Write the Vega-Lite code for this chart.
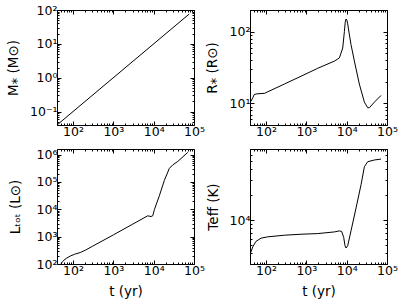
{
  "$schema": "https://vega.github.io/schema/vega-lite/v6.json",
  "padding": {"left": 5, "top": 3, "right": 5, "bottom": 5},
  "background": "white",
  "datasets": {
    "mass": [{"t": 40, "v": 0.04}, {"t": 76000, "v": 76}],
    "radius": [
      {"t": 40, "v": 10.2}, {"t": 47, "v": 12.0}, {"t": 51, "v": 13.3}, {"t": 60, "v": 13.6}, {"t": 91, "v": 13.8},
      {"t": 285, "v": 18.6}, {"t": 738, "v": 23.9}, {"t": 1910, "v": 30.8}, {"t": 4950, "v": 38.8},
      {"t": 6590, "v": 43}, {"t": 7970, "v": 59}, {"t": 8770, "v": 100}, {"t": 9200, "v": 135},
      {"t": 9640, "v": 150}, {"t": 10100, "v": 145}, {"t": 10600, "v": 128}, {"t": 11500, "v": 95},
      {"t": 12800, "v": 66}, {"t": 15500, "v": 39}, {"t": 20600, "v": 18.6}, {"t": 27500, "v": 10.4},
      {"t": 33200, "v": 8.7}, {"t": 36600, "v": 8.7}, {"t": 48600, "v": 10.4}, {"t": 71200, "v": 12.9}
    ],
    "lum": [
      {"t": 50, "v": 100}, {"t": 55, "v": 122}, {"t": 60, "v": 140}, {"t": 70, "v": 165}, {"t": 85, "v": 195},
      {"t": 110, "v": 228}, {"t": 150, "v": 262}, {"t": 200, "v": 318}, {"t": 300, "v": 440}, {"t": 1000, "v": 1160},
      {"t": 3000, "v": 2850}, {"t": 7100, "v": 5770}, {"t": 8600, "v": 5440}, {"t": 9480, "v": 5770},
      {"t": 10400, "v": 9700}, {"t": 13800, "v": 31000}, {"t": 18400, "v": 114000}, {"t": 24500, "v": 314000},
      {"t": 29700, "v": 420000}, {"t": 39500, "v": 560000}, {"t": 70000, "v": 1200000}
    ],
    "teff": [
      {"t": 40, "v": 3900}, {"t": 47, "v": 4810}, {"t": 56, "v": 5560}, {"t": 75, "v": 6090}, {"t": 110, "v": 6310},
      {"t": 285, "v": 6600}, {"t": 738, "v": 6780}, {"t": 1910, "v": 6900}, {"t": 4950, "v": 7220},
      {"t": 6590, "v": 7430}, {"t": 7530, "v": 7300}, {"t": 8440, "v": 6200}, {"t": 9100, "v": 4940},
      {"t": 9640, "v": 4650}, {"t": 10600, "v": 4940}, {"t": 12800, "v": 7430}, {"t": 17100, "v": 13970},
      {"t": 22700, "v": 26300}, {"t": 27500, "v": 43100}, {"t": 33200, "v": 49400}, {"t": 48600, "v": 51800},
      {"t": 71200, "v": 53100}
    ]
  },
  "columns": 2,
  "bounds": "flush",
  "spacing": {"row": 24, "column": 56},
  "concat": [
    {
      "width": 137, "height": 115,
      "data": {"name": "mass"},
      "layer": [
        {"mark": {"type": "line", "color": "#000", "strokeWidth": 1, "clip": true},
         "encoding": {
           "x": {"field": "t", "type": "quantitative", "scale": {"type": "log", "domain": [40, 100000], "nice": false},
             "axis": {"orient": "bottom", "title": null, "labelPadding": 4,
               "values": [40,50,60,70,80,90,100,200,300,400,500,600,700,800,900,1000,2000,3000,4000,5000,6000,7000,8000,9000,10000,20000,30000,40000,50000,60000,70000,80000,90000,100000],
               "labelExpr": "abs(log(datum.value)/LN10-round(log(datum.value)/LN10))<0.001 ? '10'+['⁻²','⁻¹','⁰','¹','²','³','⁴','⁵','⁶'][round(log(datum.value)/LN10)+2] : ''",
               "tickSize": {"condition": {"test": "abs(log(datum.value)/LN10-round(log(datum.value)/LN10))<0.001", "value": -4}, "value": -2}}},
           "y": {"field": "v", "type": "quantitative", "scale": {"type": "log", "domain": [0.04, 100], "nice": false},
             "axis": {"orient": "left", "title": "M⁎ (M⊙)", "titlePadding": 7, "minExtent": 30, "maxExtent": 30, "labelPadding": 4,
               "values": [0.04,0.05,0.06,0.07,0.08,0.09,0.1,0.2,0.3,0.4,0.5,0.6,0.7,0.8,0.9,1,2,3,4,5,6,7,8,9,10,20,30,40,50,60,70,80,90,100],
               "labelExpr": "abs(log(datum.value)/LN10-round(log(datum.value)/LN10))<0.001 ? '10'+['⁻²','⁻¹','⁰','¹','²','³','⁴','⁵','⁶'][round(log(datum.value)/LN10)+2] : ''",
               "tickSize": {"condition": {"test": "abs(log(datum.value)/LN10-round(log(datum.value)/LN10))<0.001", "value": -4}, "value": -2}}}
         }},
        {"mark": {"type": "line", "opacity": 0},
         "encoding": {
           "x": {"field": "t", "type": "quantitative",
             "axis": {"orient": "top", "title": null, "labels": false,
               "values": [40,50,60,70,80,90,100,200,300,400,500,600,700,800,900,1000,2000,3000,4000,5000,6000,7000,8000,9000,10000,20000,30000,40000,50000,60000,70000,80000,90000,100000],
               "tickSize": {"condition": {"test": "abs(log(datum.value)/LN10-round(log(datum.value)/LN10))<0.001", "value": -4}, "value": -2}}},
           "y": {"field": "v", "type": "quantitative",
             "axis": {"orient": "right", "title": null, "labels": false,
               "values": [0.04,0.05,0.06,0.07,0.08,0.09,0.1,0.2,0.3,0.4,0.5,0.6,0.7,0.8,0.9,1,2,3,4,5,6,7,8,9,10,20,30,40,50,60,70,80,90,100],
               "tickSize": {"condition": {"test": "abs(log(datum.value)/LN10-round(log(datum.value)/LN10))<0.001", "value": -4}, "value": -2}}}
         }}
      ],
      "resolve": {"axis": {"x": "independent", "y": "independent"}}
    },
    {
      "width": 137, "height": 115,
      "data": {"name": "radius"},
      "layer": [
        {"mark": {"type": "line", "color": "#000", "strokeWidth": 1, "clip": true},
         "encoding": {
           "x": {"field": "t", "type": "quantitative", "scale": {"type": "log", "domain": [40, 100000], "nice": false},
             "axis": {"orient": "bottom", "title": null, "labelPadding": 4,
               "values": [40,50,60,70,80,90,100,200,300,400,500,600,700,800,900,1000,2000,3000,4000,5000,6000,7000,8000,9000,10000,20000,30000,40000,50000,60000,70000,80000,90000,100000],
               "labelExpr": "abs(log(datum.value)/LN10-round(log(datum.value)/LN10))<0.001 ? '10'+['⁻²','⁻¹','⁰','¹','²','³','⁴','⁵','⁶'][round(log(datum.value)/LN10)+2] : ''",
               "tickSize": {"condition": {"test": "abs(log(datum.value)/LN10-round(log(datum.value)/LN10))<0.001", "value": -4}, "value": -2}}},
           "y": {"field": "v", "type": "quantitative", "scale": {"type": "log", "domain": [5, 200], "nice": false},
             "axis": {"orient": "left", "title": "R⁎ (R⊙)", "titlePadding": 1, "minExtent": 30, "maxExtent": 30, "labelPadding": 4,
               "values": [5,6,7,8,9,10,20,30,40,50,60,70,80,90,100,200],
               "labelExpr": "abs(log(datum.value)/LN10-round(log(datum.value)/LN10))<0.001 ? '10'+['⁻²','⁻¹','⁰','¹','²','³','⁴','⁵','⁶'][round(log(datum.value)/LN10)+2] : ''",
               "tickSize": {"condition": {"test": "abs(log(datum.value)/LN10-round(log(datum.value)/LN10))<0.001", "value": -4}, "value": -2}}}
         }},
        {"mark": {"type": "line", "opacity": 0},
         "encoding": {
           "x": {"field": "t", "type": "quantitative",
             "axis": {"orient": "top", "title": null, "labels": false,
               "values": [40,50,60,70,80,90,100,200,300,400,500,600,700,800,900,1000,2000,3000,4000,5000,6000,7000,8000,9000,10000,20000,30000,40000,50000,60000,70000,80000,90000,100000],
               "tickSize": {"condition": {"test": "abs(log(datum.value)/LN10-round(log(datum.value)/LN10))<0.001", "value": -4}, "value": -2}}},
           "y": {"field": "v", "type": "quantitative",
             "axis": {"orient": "right", "title": null, "labels": false,
               "values": [5,6,7,8,9,10,20,30,40,50,60,70,80,90,100,200],
               "tickSize": {"condition": {"test": "abs(log(datum.value)/LN10-round(log(datum.value)/LN10))<0.001", "value": -4}, "value": -2}}}
         }}
      ],
      "resolve": {"axis": {"x": "independent", "y": "independent"}}
    },
    {
      "width": 137, "height": 115,
      "data": {"name": "lum"},
      "layer": [
        {"mark": {"type": "line", "color": "#000", "strokeWidth": 1, "clip": true},
         "encoding": {
           "x": {"field": "t", "type": "quantitative", "scale": {"type": "log", "domain": [40, 100000], "nice": false},
             "axis": {"orient": "bottom", "title": "t (yr)", "titlePadding": 5, "minExtent": 15, "maxExtent": 15, "labelPadding": 4,
               "values": [40,50,60,70,80,90,100,200,300,400,500,600,700,800,900,1000,2000,3000,4000,5000,6000,7000,8000,9000,10000,20000,30000,40000,50000,60000,70000,80000,90000,100000],
               "labelExpr": "abs(log(datum.value)/LN10-round(log(datum.value)/LN10))<0.001 ? '10'+['⁻²','⁻¹','⁰','¹','²','³','⁴','⁵','⁶'][round(log(datum.value)/LN10)+2] : ''",
               "tickSize": {"condition": {"test": "abs(log(datum.value)/LN10-round(log(datum.value)/LN10))<0.001", "value": -4}, "value": -2}}},
           "y": {"field": "v", "type": "quantitative", "scale": {"type": "log", "domain": [100, 1600000], "nice": false},
             "axis": {"orient": "left", "title": "Lₜₒₜ (L⊙)", "titlePadding": 5, "minExtent": 30, "maxExtent": 30, "labelPadding": 4,
               "values": [100,200,300,400,500,600,700,800,900,1000,2000,3000,4000,5000,6000,7000,8000,9000,10000,20000,30000,40000,50000,60000,70000,80000,90000,100000,200000,300000,400000,500000,600000,700000,800000,900000,1000000],
               "labelExpr": "abs(log(datum.value)/LN10-round(log(datum.value)/LN10))<0.001 ? '10'+['⁻²','⁻¹','⁰','¹','²','³','⁴','⁵','⁶'][round(log(datum.value)/LN10)+2] : ''",
               "tickSize": {"condition": {"test": "abs(log(datum.value)/LN10-round(log(datum.value)/LN10))<0.001", "value": -4}, "value": -2}}}
         }},
        {"mark": {"type": "line", "opacity": 0},
         "encoding": {
           "x": {"field": "t", "type": "quantitative",
             "axis": {"orient": "top", "title": null, "labels": false,
               "values": [40,50,60,70,80,90,100,200,300,400,500,600,700,800,900,1000,2000,3000,4000,5000,6000,7000,8000,9000,10000,20000,30000,40000,50000,60000,70000,80000,90000,100000],
               "tickSize": {"condition": {"test": "abs(log(datum.value)/LN10-round(log(datum.value)/LN10))<0.001", "value": -4}, "value": -2}}},
           "y": {"field": "v", "type": "quantitative",
             "axis": {"orient": "right", "title": null, "labels": false,
               "values": [100,200,300,400,500,600,700,800,900,1000,2000,3000,4000,5000,6000,7000,8000,9000,10000,20000,30000,40000,50000,60000,70000,80000,90000,100000,200000,300000,400000,500000,600000,700000,800000,900000,1000000],
               "tickSize": {"condition": {"test": "abs(log(datum.value)/LN10-round(log(datum.value)/LN10))<0.001", "value": -4}, "value": -2}}}
         }}
      ],
      "resolve": {"axis": {"x": "independent", "y": "independent"}}
    },
    {
      "width": 137, "height": 115,
      "data": {"name": "teff"},
      "layer": [
        {"mark": {"type": "line", "color": "#000", "strokeWidth": 1, "clip": true},
         "encoding": {
           "x": {"field": "t", "type": "quantitative", "scale": {"type": "log", "domain": [40, 100000], "nice": false},
             "axis": {"orient": "bottom", "title": "t (yr)", "titlePadding": 5, "minExtent": 15, "maxExtent": 15, "labelPadding": 4,
               "values": [40,50,60,70,80,90,100,200,300,400,500,600,700,800,900,1000,2000,3000,4000,5000,6000,7000,8000,9000,10000,20000,30000,40000,50000,60000,70000,80000,90000,100000],
               "labelExpr": "abs(log(datum.value)/LN10-round(log(datum.value)/LN10))<0.001 ? '10'+['⁻²','⁻¹','⁰','¹','²','³','⁴','⁵','⁶'][round(log(datum.value)/LN10)+2] : ''",
               "tickSize": {"condition": {"test": "abs(log(datum.value)/LN10-round(log(datum.value)/LN10))<0.001", "value": -4}, "value": -2}}},
           "y": {"field": "v", "type": "quantitative", "scale": {"type": "log", "domain": [3000, 70000], "nice": false},
             "axis": {"orient": "left", "title": "Teff (K)", "titlePadding": 0, "minExtent": 30, "maxExtent": 30, "labelPadding": 4,
               "values": [3000,4000,5000,6000,7000,8000,9000,10000,20000,30000,40000,50000,60000,70000],
               "labelExpr": "abs(log(datum.value)/LN10-round(log(datum.value)/LN10))<0.001 ? '10'+['⁻²','⁻¹','⁰','¹','²','³','⁴','⁵','⁶'][round(log(datum.value)/LN10)+2] : ''",
               "tickSize": {"condition": {"test": "abs(log(datum.value)/LN10-round(log(datum.value)/LN10))<0.001", "value": -4}, "value": -2}}}
         }},
        {"mark": {"type": "line", "opacity": 0},
         "encoding": {
           "x": {"field": "t", "type": "quantitative",
             "axis": {"orient": "top", "title": null, "labels": false,
               "values": [40,50,60,70,80,90,100,200,300,400,500,600,700,800,900,1000,2000,3000,4000,5000,6000,7000,8000,9000,10000,20000,30000,40000,50000,60000,70000,80000,90000,100000],
               "tickSize": {"condition": {"test": "abs(log(datum.value)/LN10-round(log(datum.value)/LN10))<0.001", "value": -4}, "value": -2}}},
           "y": {"field": "v", "type": "quantitative",
             "axis": {"orient": "right", "title": null, "labels": false,
               "values": [3000,4000,5000,6000,7000,8000,9000,10000,20000,30000,40000,50000,60000,70000],
               "tickSize": {"condition": {"test": "abs(log(datum.value)/LN10-round(log(datum.value)/LN10))<0.001", "value": -4}, "value": -2}}}
         }}
      ],
      "resolve": {"axis": {"x": "independent", "y": "independent"}}
    }
  ],
  "config": {
    "view": {"stroke": "#000", "strokeWidth": 1},
    "axis": {
      "domain": false, "grid": false,
      "labelFont": "DejaVu Sans", "labelFontSize": 12.5, "labelColor": "#000",
      "titleFont": "DejaVu Sans", "titleFontSize": 13.5, "titleFontWeight": "normal", "titleColor": "#000",
      "tickColor": "#000", "tickWidth": 1,
      "labelOverlap": false, "labelFlush": false, "labelBound": false
    }
  }
}
